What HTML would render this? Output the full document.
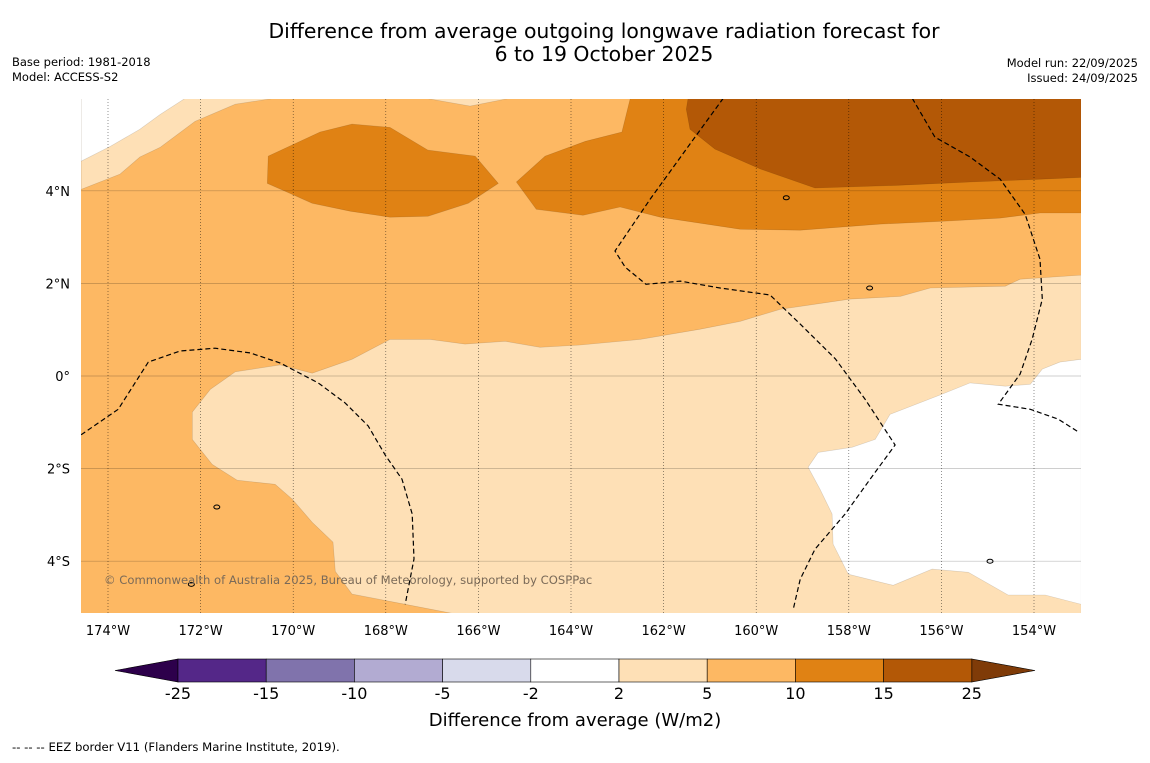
<!DOCTYPE html>
<html><head><meta charset="utf-8">
<style>
body{margin:0;background:#fff;width:1150px;height:758px;overflow:hidden;font-family:"Liberation Sans","DejaVu Sans",sans-serif;}
</style></head>
<body>
<svg id="fig" width="1150" height="758" viewBox="0 0 1150 758" xmlns="http://www.w3.org/2000/svg" font-family="DejaVu Sans, Liberation Sans, sans-serif">
<text x="604" y="38" font-size="20.4" text-anchor="middle">Difference from average outgoing longwave radiation forecast for</text>
<text x="604" y="61" font-size="20.4" text-anchor="middle">6 to 19 October 2025</text>
<text x="12" y="66" font-size="11.5">Base period: 1981-2018</text>
<text x="12" y="81" font-size="11.5">Model: ACCESS-S2</text>
<text x="1138" y="67" font-size="11.5" text-anchor="end">Model run: 22/09/2025</text>
<text x="1138" y="82" font-size="11.5" text-anchor="end">Issued: 24/09/2025</text>
<defs><clipPath id="mapclip"><rect x="81" y="99" width="1000" height="514"/></clipPath></defs>
<g id="map" clip-path="url(#mapclip)"></g>
<g id="axes"></g>
<text x="104" y="584" font-size="11.6" fill="#7a6a58">© Commonwealth of Australia 2025, Bureau of Meteorology, supported by COSPPac</text>
<g id="cbar"></g>
<text x="575" y="726" font-size="18" text-anchor="middle">Difference from average (W/m2)</text>
<text x="12" y="751" font-size="11.7">--  --  -- EEZ border V11 (Flanders Marine Institute, 2019).</text>
</svg>
<script>
const lonTicks=[-174,-172,-170,-168,-166,-164,-162,-160,-158,-156,-154];
const latTicks=[4,2,0,-2,-4];
const cbLevels=[-25,-15,-10,-5,-2,2,5,10,15,25];
const cbColors=["#542788","#8073ac","#b2abd2","#d8daeb","#ffffff","#fee0b6","#fdb863","#e08214","#b35806"];
const cbTipColors=["#2d004b","#7f3b08"];
const baseColor="#fdb863";
const lightStrip=[[-174.58,6],[-170.39,6],[-171.25,5.87],[-172.12,5.5],[-172.87,4.94],[-173.31,4.73],[-173.74,4.36],[-174.58,4.03]];
const whiteCorner=[[-174.58,6],[-172.33,6],[-172.87,5.65],[-173.31,5.33],[-173.95,4.96],[-174.58,4.64]];
const lightTop=[[-167.15,6],[-166.18,5.83],[-165.31,6]];
const blobA=[[-170.54,4.75],[-169.42,5.27],[-168.73,5.44],[-167.91,5.37],[-167.09,4.88],[-166.07,4.75],[-165.57,4.16],[-166.22,3.73],[-167.09,3.45],[-167.91,3.43],[-168.77,3.56],[-169.59,3.73],[-170.17,3.99],[-170.56,4.16]];
const blobB=[[-165.18,4.19],[-164.56,4.75],[-163.69,5.07],[-162.9,5.27],[-162.72,6],[-152.98,6],[-152.98,3.52],[-153.87,3.52],[-154.73,3.41],[-156.03,3.34],[-157.32,3.28],[-159.05,3.15],[-160.35,3.17],[-162.07,3.43],[-162.94,3.65],[-163.74,3.47],[-164.75,3.6]];
const darkest=[[-161.47,6],[-152.98,6],[-152.98,4.29],[-153.87,4.25],[-155.38,4.19],[-156.89,4.12],[-158.73,4.06],[-159.91,4.47],[-160.89,4.9],[-161.43,5.33],[-161.51,5.76]];
const lightLower=[[-152.98,2.18],[-154.3,2.09],[-154.62,1.94],[-156.24,1.9],[-156.89,1.72],[-157.97,1.66],[-159.48,1.44],[-160.35,1.18],[-161.21,1.01],[-162.51,0.79],[-163.8,0.67],[-164.67,0.62],[-165.42,0.75],[-166.29,0.69],[-167.04,0.79],[-167.91,0.79],[-168.73,0.36],[-169.59,0.06],[-170.28,0.24],[-171.25,0.09],[-171.79,-0.29],[-172.18,-0.78],[-172.18,-1.37],[-171.75,-1.91],[-171.21,-2.25],[-170.39,-2.34],[-170.02,-2.66],[-169.59,-3.16],[-169.14,-3.59],[-169.09,-4.22],[-168.73,-4.71],[-167.58,-4.93],[-166.18,-5.2],[-152.98,-5.2]];
const whiteLower=[[-152.98,0.36],[-153.44,0.3],[-153.82,0.15],[-154.08,-0.18],[-154.62,-0.22],[-155.38,-0.15],[-156.03,-0.41],[-157.11,-0.83],[-157.43,-1.37],[-157.93,-1.54],[-158.66,-1.65],[-158.88,-1.97],[-158.62,-2.45],[-158.36,-2.98],[-158.34,-3.63],[-158.01,-4.28],[-157.04,-4.52],[-156.2,-4.17],[-155.42,-4.24],[-154.56,-4.73],[-153.76,-4.73],[-152.98,-4.93]];
const eez1=[[-174.58,-1.27],[-173.78,-0.72],[-173.13,0.3],[-172.44,0.54],[-171.69,0.6],[-170.93,0.5],[-170.28,0.28],[-169.46,-0.15],[-168.88,-0.58],[-168.38,-1.08],[-168.01,-1.71],[-167.65,-2.23],[-167.43,-2.98],[-167.39,-3.95],[-167.58,-4.93]];
const eez2=[[-160.71,6],[-161.43,5.01],[-162.29,3.82],[-163.05,2.7],[-162.83,2.35],[-162.38,1.98],[-161.64,2.05],[-160.78,1.9],[-159.7,1.75],[-159.05,1.12],[-158.29,0.37],[-157.65,-0.5],[-157.0,-1.49],[-157.54,-2.23],[-158.08,-2.98],[-158.73,-3.74],[-159.05,-4.39],[-159.2,-5.04]];
const eez3=[[-156.63,6],[-156.14,5.16],[-155.38,4.73],[-154.73,4.25],[-154.19,3.49],[-153.87,2.52],[-153.82,1.66],[-154.04,0.79],[-154.3,0.04],[-154.77,-0.61],[-154.08,-0.72],[-153.48,-0.93],[-153.07,-1.19]];
const islands=[[-157.55,1.9],[-171.65,-2.83],[-172.2,-4.5],[-159.35,3.85],[-154.95,-4.0]];

const NS="http://www.w3.org/2000/svg";
const X=lon=>108+(lon+174)*46.3;
const Y=lat=>376-lat*46.3;
function mk(tag,attrs,parent){const e=document.createElementNS(NS,tag);for(const k in attrs)e.setAttribute(k,attrs[k]);parent.appendChild(e);return e;}
const map=document.getElementById('map');
const axes=document.getElementById('axes');
const pts=a=>a.map(p=>X(p[0]).toFixed(1)+','+Y(p[1]).toFixed(1)).join(' ');

let bg=mk('rect',{x:81,y:99,width:1000,height:514,fill:baseColor},map);


const fills=[[lightStrip,cbColors[5],'contour-fill-2-5-north'],[whiteCorner,cbColors[4],'contour-fill-neutral-northwest'],[lightTop,cbColors[5],'contour-fill-2-5-top'],[blobA,cbColors[7],'contour-fill-10-15-west'],[blobB,cbColors[7],'contour-fill-10-15-east'],[darkest,cbColors[8],'contour-fill-15-25'],[lightLower,cbColors[5],'contour-fill-2-5-south'],[whiteLower,cbColors[4],'contour-fill-neutral-southeast']];
fills.forEach(f=>{
  const p=mk('polygon',{points:pts(f[0]),fill:f[1],stroke:'rgba(0,0,0,0.15)','stroke-width':0.6},map);
  
  
});
lonTicks.forEach(l=>{
  const g=mk('line',{x1:X(l),x2:X(l),y1:99,y2:613,stroke:'#000','stroke-width':0.6,'stroke-dasharray':'1,2',opacity:0.7},map);
  
  
});
latTicks.forEach(l=>{
  const g=mk('line',{x1:81,x2:1081,y1:Y(l),y2:Y(l),stroke:'#000','stroke-width':0.7,opacity:0.25},map);
  
  
});
[eez1,eez2,eez3].forEach(e=>{
  const p=mk('polyline',{points:pts(e),fill:'none',stroke:'#000','stroke-width':1.2,'stroke-dasharray':'5,3'},map);
  
  
});
islands.forEach(i=>{
  const c=mk('ellipse',{cx:X(i[0]),cy:Y(i[1]),rx:3,ry:2,fill:'none',stroke:'#000','stroke-width':1},map);
  
  
});
lonTicks.forEach(l=>{
  const t=mk('text',{x:X(l),y:635,'font-size':13,'text-anchor':'middle'},axes);
  t.textContent=Math.abs(l)+'°W';
  
  
});
latTicks.forEach(l=>{
  const t=mk('text',{x:70,y:Y(l)+5,'font-size':13,'text-anchor':'end'},axes);
  t.textContent=l===0?'0°':Math.abs(l)+'°'+(l>0?'N':'S');
  
  
});
const cb=document.getElementById('cbar');
const cx0=178,cw=88.2,cy=659,ch=23;
const CX=i=>cx0+i*cw;
let tl=mk('polygon',{points:`115,670.5 ${CX(0)},${cy} ${CX(0)},${cy+ch}`,fill:cbTipColors[0],stroke:'#000','stroke-width':0.6},cb);


let tr=mk('polygon',{points:`1035,670.5 ${CX(9)},${cy} ${CX(9)},${cy+ch}`,fill:cbTipColors[1],stroke:'#000','stroke-width':0.6},cb);


cbColors.forEach((c,i)=>{
  const r=mk('rect',{x:CX(i),y:cy,width:cw,height:ch,fill:c,stroke:'#000','stroke-width':0.6},cb);
  
  
});
cbLevels.forEach((v,i)=>{
  const t=mk('text',{x:CX(i),y:699,'font-size':16,'text-anchor':'middle'},cb);
  t.textContent=v;
  
  
});
</script>
</body></html>
